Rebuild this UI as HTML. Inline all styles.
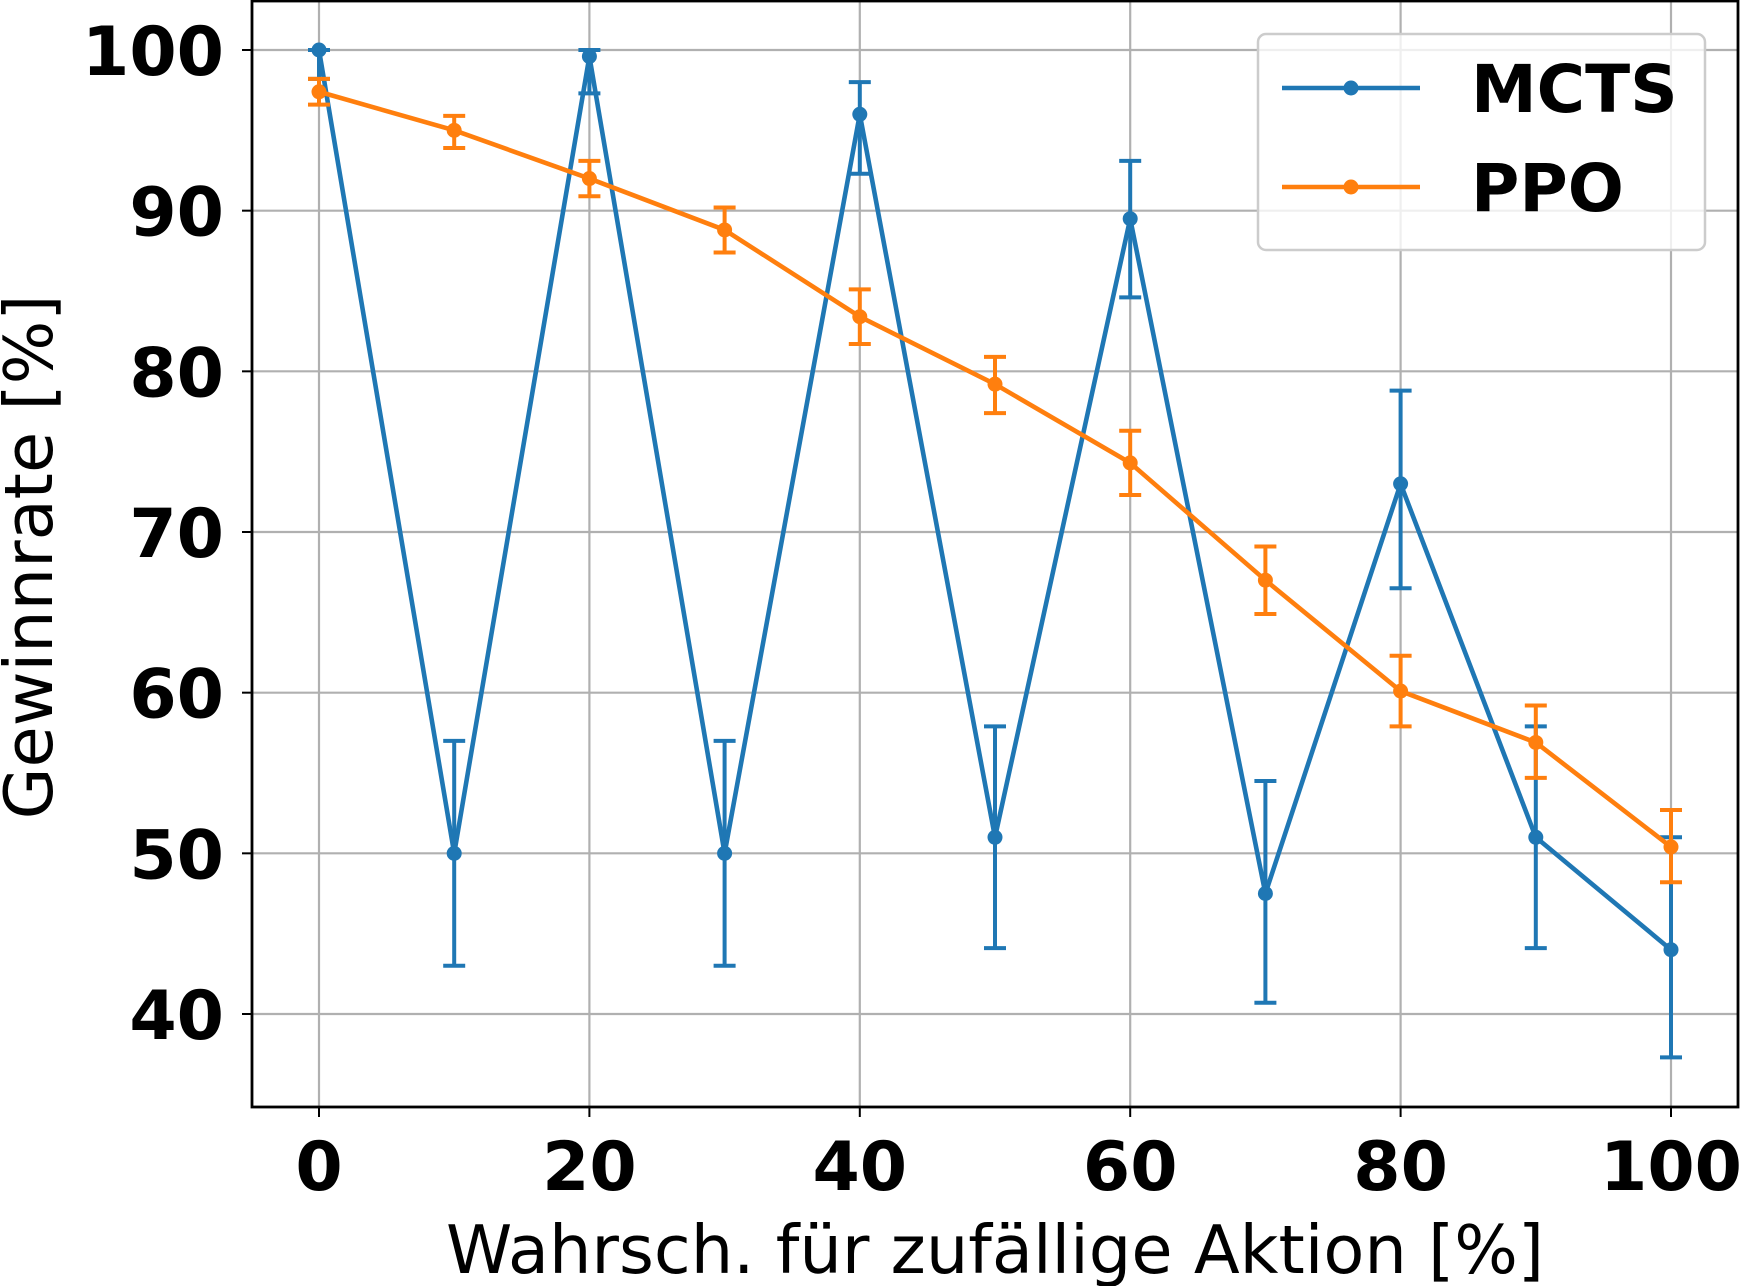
<!DOCTYPE html>
<html><head><meta charset="utf-8"><style>
html,body{margin:0;padding:0;background:#fff;}
svg{display:block;font-family:"DejaVu Sans","Liberation Sans",sans-serif;}
</style></head><body>
<svg id="chart" width="1741" height="1286" viewBox="0 0 1741 1286"></svg>
<script>
const xValues=[0,10,20,30,40,50,60,70,80,90,100];
const mctsValues=[100,50,99.6,50,96,51,89.5,47.5,73,51,44];
const mctsLow=[98.2,43,97.3,43,92.3,44.1,84.6,40.7,66.5,44.1,37.3];
const mctsHigh=[100,57,100,57,98,57.9,93.1,54.5,78.8,57.9,51];
const ppoValues=[97.4,95,92,88.8,83.4,79.2,74.3,67,60.1,56.9,50.4];
const ppoLow=[96.6,93.9,90.9,87.4,81.7,77.4,72.3,64.9,57.9,54.7,48.2];
const ppoHigh=[98.2,95.9,93.1,90.2,85.1,80.9,76.3,69.1,62.3,59.2,52.7];
const xTicks=[0,20,40,60,80,100];
const yTicks=[40,50,60,70,80,90,100];

const NS="http://www.w3.org/2000/svg";
const svg=document.getElementById('chart');
const L=252,R=1738,T=1,B=1107;
const sx=v=>319+(v-0)*(1671-319)/100;
const sy=v=>50+(100-v)*(1014-50)/60;
function mk(tag,attrs,parent){const e=document.createElementNS(NS,tag);for(const k in attrs)e.setAttribute(k,attrs[k]);(parent||svg).appendChild(e);return e;}

const grid=mk('g',{});


xTicks.forEach(t=>{const l=mk('line',{x1:sx(t),x2:sx(t),y1:T,y2:B,stroke:'#b0b0b0','stroke-width':2.2},grid);

});
yTicks.forEach(t=>{const l=mk('line',{x1:L,x2:R,y1:sy(t),y2:sy(t),stroke:'#b0b0b0','stroke-width':2.2},grid);

});

function series(vals,lo,hi,color,name){
  const g=mk('g',{});
  
  
  xValues.forEach((x,i)=>{
    const X=sx(x);
    const eb=mk('path',{d:`M${X},${sy(lo[i])}V${sy(hi[i])}M${X-11},${sy(lo[i])}H${X+11}M${X-11},${sy(hi[i])}H${X+11}`,stroke:color,'stroke-width':4,fill:'none'},g);
    
    
  });
  const pl=mk('polyline',{points:xValues.map((x,i)=>sx(x)+','+sy(vals[i])).join(' '),stroke:color,'stroke-width':4.6,fill:'none','stroke-linejoin':'round'},g);
  
  
  xValues.forEach((x,i)=>{const c=mk('circle',{cx:sx(x),cy:sy(vals[i]),r:7.5,fill:color},g);
    
    });
}
series(mctsValues,mctsLow,mctsHigh,'#1f77b4','mcts');
series(ppoValues,ppoLow,ppoHigh,'#ff7f0e','ppo');

const frame=mk('rect',{x:L,y:T,width:R-L,height:B-T,fill:'none',stroke:'#000','stroke-width':2.8});



xTicks.forEach(t=>{
  const tk=mk('line',{x1:sx(t),x2:sx(t),y1:B,y2:B+10,stroke:'#000','stroke-width':2});
  
  
  const tx=mk('text',{x:sx(t),y:1190,'text-anchor':'middle','font-size':68,'font-weight':'bold'});
  tx.textContent=t;
  
  
});
yTicks.forEach(t=>{
  const tk=mk('line',{x1:L-10,x2:L,y1:sy(t),y2:sy(t),stroke:'#000','stroke-width':2});
  
  
  const tx=mk('text',{x:L-28,y:sy(t)+25,'text-anchor':'end','font-size':68,'font-weight':'bold'});
  tx.textContent=t;
  
  
});
const xt=mk('text',{x:995,y:1273,'text-anchor':'middle','font-size':67});
xt.textContent='Wahrsch. für zufällige Aktion [%]';


const yt=mk('text',{x:0,y:0,'text-anchor':'middle','font-size':67,transform:'translate(52,557) rotate(-90)'});
yt.textContent='Gewinnrate [%]';



const lg=mk('g',{});


mk('rect',{x:1258,y:34,width:447,height:216,rx:8,fill:'#fff','fill-opacity':0.8,stroke:'#cccccc','stroke-width':2.5},lg);
[['MCTS','#1f77b4',88],['PPO','#ff7f0e',187]].forEach(([n,c,y])=>{
  const e=mk('g',{},lg);
  
  
  mk('line',{x1:1282,x2:1420,y1:y,y2:y,stroke:c,'stroke-width':4.6},e);
  mk('circle',{cx:1351,cy:y,r:7.5,fill:c},e);
  const t=mk('text',{x:1471,y:y+24,'font-size':66,'font-weight':'bold'},e);
  t.textContent=n;
});
</script>
</body></html>
